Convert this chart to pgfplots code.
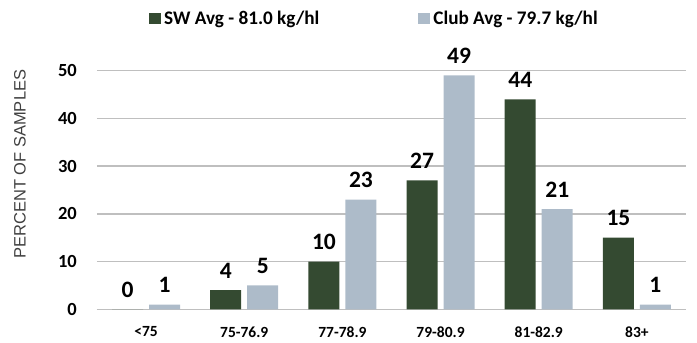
\documentclass[border=0pt]{standalone}
\usepackage{fontspec}
\setmainfont{Carlito}
\newfontfamily\arialf{Liberation Sans}
\usepackage{pgfplots}
\pgfplotsset{compat=1.18}
\definecolor{swgreen}{HTML}{344A31}
\definecolor{clubblue}{HTML}{ADBBC9}
\definecolor{gridgray}{HTML}{BFBFBF}
\definecolor{labgray}{HTML}{404040}
\begin{document}
\begin{tikzpicture}
\path[use as bounding box] (-97pt,-33.7pt) rectangle (600pt,309.3pt);
\begin{axis}[
  at={(0pt,0pt)}, anchor=south west,
  scale only axis, width=589pt, height=238.6pt,
  xmin=-0.5, xmax=5.5, ymin=0, ymax=50,
  ybar=6pt, bar width=31pt,
  xtick={0,1,2,3,4,5},
  xticklabels={{<75},{75-76.9},{77-78.9},{79-80.9},{81-82.9},{83+}},
  ytick={0,10,20,30,40,50},
  ymajorgrids, grid style={gridgray, line width=1.3pt},
  axis x line*=bottom, axis y line*=left,
  y axis line style={draw=none},
  x axis line style={gridgray, line width=1.3pt, -},
  tick style={draw=none}, major tick length=0pt,
  /pgf/number format/assume math mode=true,
  yticklabel style={font=\fontsize{18.5}{22}\selectfont\bfseries, inner sep=0pt, anchor=east, xshift=-20pt},
  xticklabel style={font=\fontsize{15.5}{18}\selectfont\bfseries, inner sep=0pt, anchor=north, yshift=-17pt},
  nodes near coords,
  every node near coord/.append style={font=\fontsize{23.5}{28}\selectfont\bfseries, black, anchor=south, inner sep=0pt, yshift=11.7pt},
  legend style={at={(0.0883,1.2185)}, anchor=west, draw=none, fill=none, inner sep=0pt,
    font=\fontsize{19.2}{22}\selectfont\bfseries, nodes={inner sep=0pt},
    /tikz/every odd column/.append style={column sep=3.5pt},
    /tikz/every even column/.append style={column sep=99pt}},
  legend columns=2,
  legend image code/.code={\fill[#1] (0pt,-5.8pt) rectangle (11.5pt,5.8pt);},
  clip=false,
]
\addplot[fill=swgreen, draw=none] coordinates {(0,0) (1,4) (2,10) (3,27) (4,44) (5,15)};
\addplot[fill=clubblue, draw=none] coordinates {(0,1) (1,5) (2,23) (3,49) (4,21) (5,1)};
\legend{SW Avg - 81.0 kg/hl, Club Avg - 79.7 kg/hl}
\node[rotate=90, font=\arialf\fontsize{16.5}{20}\selectfont, text=labgray, inner sep=0pt] at (rel axis cs:-0.131,0.608) {PERCENT OF SAMPLES};
\end{axis}
\end{tikzpicture}
\end{document}
